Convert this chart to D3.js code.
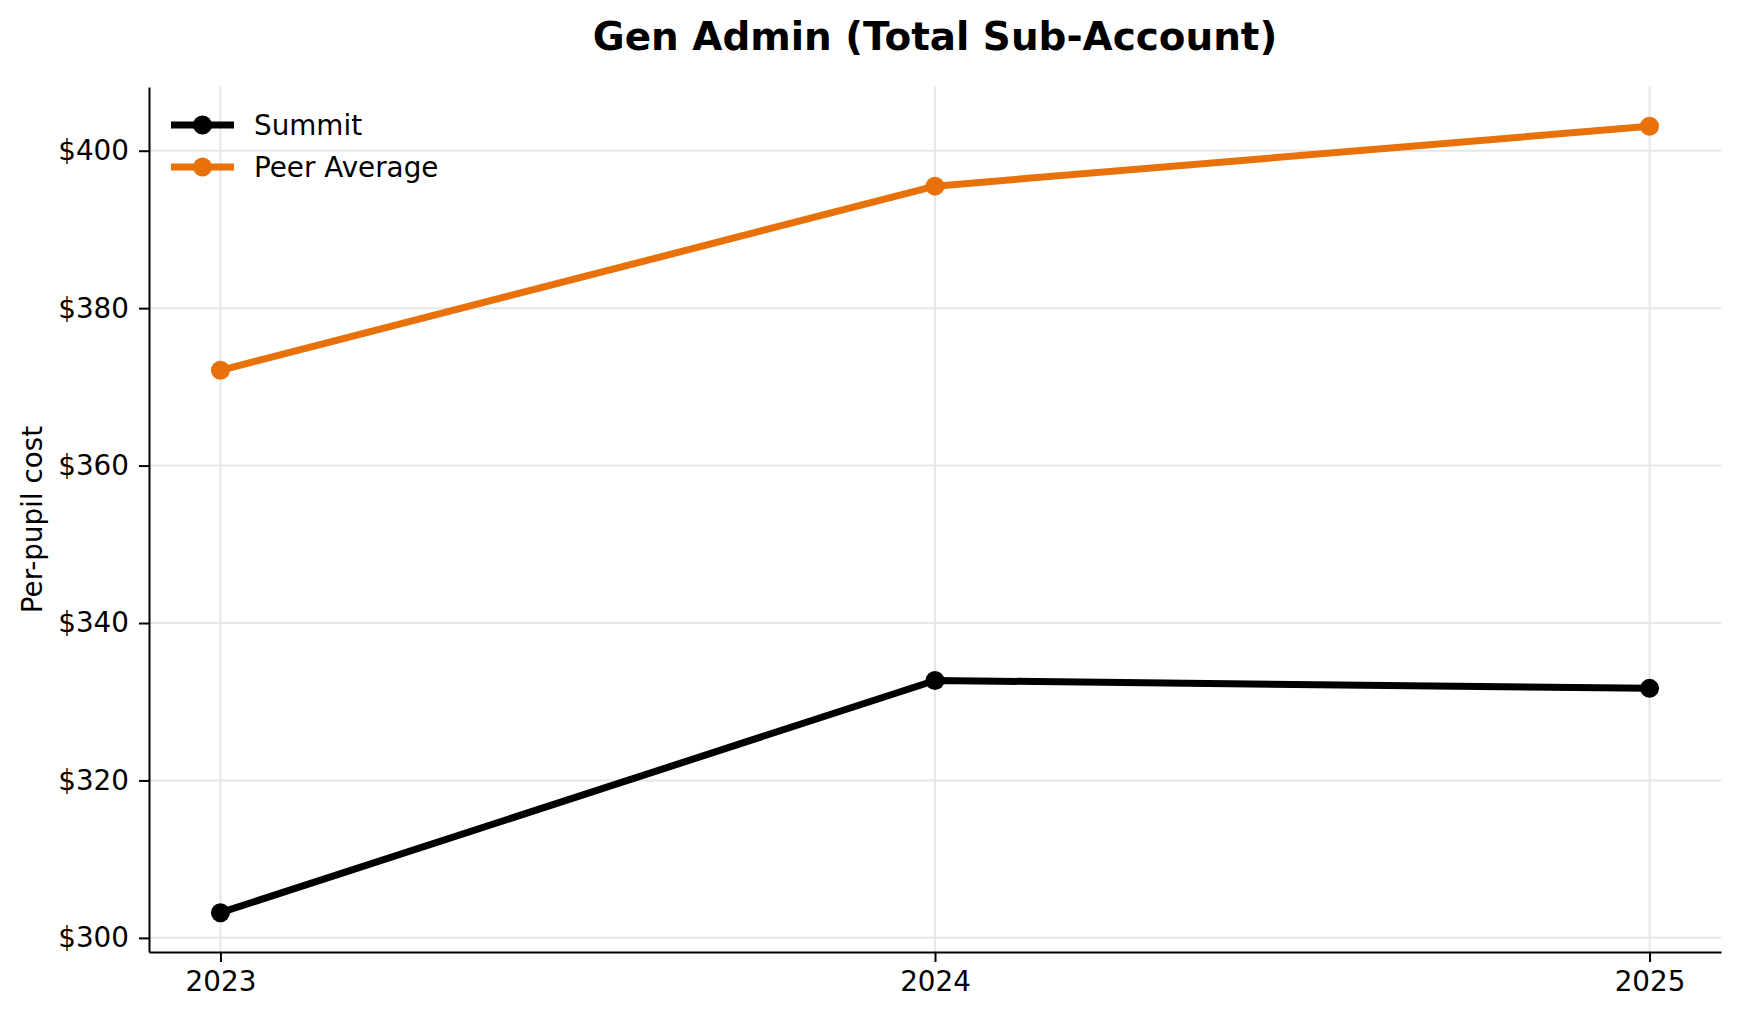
<!DOCTYPE html>
<html>
<head>
<meta charset="utf-8">
<script src="https://cdn.jsdelivr.net/npm/d3@7"></script>
<style>
  body { margin: 0; background: #fff; }
  text { font-family: "DejaVu Sans", sans-serif; fill: #000; }
</style>
</head>
<body>
<div id="chart"></div>
<script>
// data
const years = [2023, 2024, 2025];
const summit = [303.2, 332.7, 331.7];
const peerAverage = [372.1, 395.5, 403.1];
const yTicks = [300, 320, 340, 360, 380, 400];

const series = [
  { name: "Summit", values: summit, color: "#000000" },
  { name: "Peer Average", values: peerAverage, color: "#e8710a" }
];

const width = 1739;
const height = 1019;
const margin = { top: 87, right: 18, bottom: 67, left: 149 };
const fontSize = 27.8;

const svg = d3.select("#chart")
  .append("svg")
  .attr("width", width)
  .attr("height", height);

// same 5% padding matplotlib uses
const allVals = summit.concat(peerAverage);
const yMin = d3.min(allVals), yMax = d3.max(allVals);
const yPad = (yMax - yMin) * 0.05;

const x = d3.scaleLinear()
  .domain([years[0] - 0.1, years[years.length - 1] + 0.1])
  .range([margin.left, width - margin.right]);

const y = d3.scaleLinear()
  .domain([yMin - yPad, yMax + yPad])
  .range([height - margin.bottom, margin.top]);

// grid
svg.append("g")
  .selectAll("line.hgrid")
  .data(yTicks)
  .enter()
  .append("line")
  .attr("x1", margin.left)
  .attr("x2", width - margin.right)
  .attr("y1", d => y(d))
  .attr("y2", d => y(d))
  .attr("stroke", "#e6e6e6")
  .attr("stroke-width", 2);

svg.append("g")
  .selectAll("line.vgrid")
  .data(years)
  .enter()
  .append("line")
  .attr("x1", d => x(d))
  .attr("x2", d => x(d))
  .attr("y1", margin.top)
  .attr("y2", height - margin.bottom)
  .attr("stroke", "#e6e6e6")
  .attr("stroke-width", 2);

// axes
const xAxis = svg.append("g")
  .attr("transform", `translate(0,${height - margin.bottom})`)
  .call(d3.axisBottom(x).tickValues(years).tickFormat(d3.format("d")).tickSize(10).tickPadding(9).tickSizeOuter(0));

const yAxis = svg.append("g")
  .attr("transform", `translate(${margin.left},0)`)
  .call(d3.axisLeft(y).tickValues(yTicks).tickFormat(d => "$" + d).tickSize(10).tickPadding(10).tickSizeOuter(0));

[xAxis, yAxis].forEach(g => {
  g.select(".domain").attr("stroke", "#000").attr("stroke-width", 2);
  g.selectAll(".tick line").attr("stroke", "#000").attr("stroke-width", 2);
  g.selectAll(".tick text")
    .attr("font-size", fontSize)
    .attr("font-family", "DejaVu Sans, sans-serif")
    .attr("fill", "#000");
});

// lines and markers
const line = d3.line()
  .x((d, i) => x(years[i]))
  .y(d => y(d));

series.forEach(s => {
  svg.append("path")
    .datum(s.values)
    .attr("d", line)
    .attr("fill", "none")
    .attr("stroke", s.color)
    .attr("stroke-width", 7)
    .attr("stroke-linejoin", "round")
    .attr("stroke-linecap", "butt");

  svg.append("g")
    .selectAll("circle")
    .data(s.values)
    .enter()
    .append("circle")
    .attr("cx", (d, i) => x(years[i]))
    .attr("cy", d => y(d))
    .attr("r", 9.5)
    .attr("fill", s.color);
});

// legend
const legend = svg.append("g");
series.forEach((s, i) => {
  const ly = 125 + i * 42;
  legend.append("line")
    .attr("x1", 171).attr("x2", 234)
    .attr("y1", ly).attr("y2", ly)
    .attr("stroke", s.color)
    .attr("stroke-width", 7);
  legend.append("circle")
    .attr("cx", 202.5).attr("cy", ly)
    .attr("r", 9.5)
    .attr("fill", s.color);
  legend.append("text")
    .attr("x", 254).attr("y", ly)
    .attr("dy", "0.35em")
    .attr("font-size", fontSize)
    .text(s.name);
});

// title
svg.append("text")
  .attr("x", (margin.left + width - margin.right) / 2)
  .attr("y", 50)
  .attr("text-anchor", "middle")
  .attr("font-size", 38.9)
  .attr("font-weight", "bold")
  .text("Gen Admin (Total Sub-Account)");

// y label
svg.append("text")
  .attr("transform", `translate(42,${(margin.top + height - margin.bottom) / 2}) rotate(-90)`)
  .attr("text-anchor", "middle")
  .attr("font-size", fontSize)
  .text("Per-pupil cost");
</script>
</body>
</html>
